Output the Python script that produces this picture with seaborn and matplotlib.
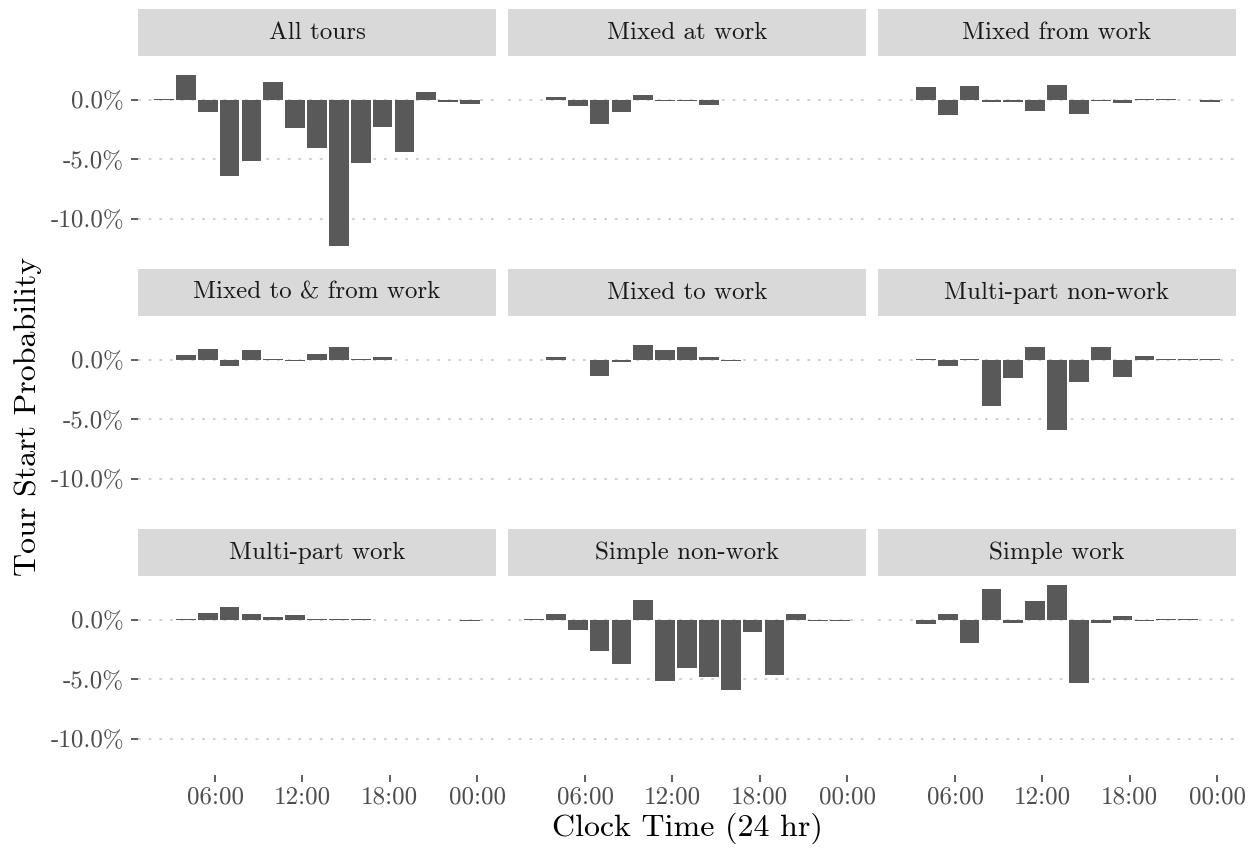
import numpy as np
import pandas as pd
import matplotlib
matplotlib.use("Agg")
import matplotlib.pyplot as plt
from matplotlib.patches import Rectangle
from matplotlib.ticker import FuncFormatter, FixedLocator
import seaborn as sns

# Start of each 1.5-hour tour-start window (bar centres, clock hours)
start_hours = [2.5, 4.0, 5.5, 7.0, 8.5, 10.0, 11.5, 13.0, 14.5, 16.0, 17.5, 19.0, 20.5, 22.0, 23.5]

tour_types = [
    "All tours", "Mixed at work", "Mixed from work",
    "Mixed to & from work", "Mixed to work", "Multi-part non-work",
    "Multi-part work", "Simple non-work", "Simple work",
]

# Change in tour start probability (percentage points); None = no tours in window
all_tours = [0.04, 2.08, -1.03, -6.45, -5.18, 1.48, -2.39, -4.08, -12.3, -5.35, -2.30, -4.42, 0.64, -0.18, -0.35]
mixed_at_work = [None, 0.21, -0.55, -2.08, -1.06, 0.38, -0.13, -0.13, -0.47, None, None, None, None, None, None]
mixed_from_work = [None, 1.06, -1.31, 1.14, -0.21, -0.21, -0.97, 1.23, -1.23, -0.13, -0.30, 0.04, 0.04, None, -0.21]
mixed_to_from_work = [None, 0.37, 0.88, -0.56, 0.79, 0.04, -0.14, 0.45, 1.05, 0.04, 0.20, None, None, None, None]
mixed_to_work = [None, 0.18, -0.05, -1.41, -0.23, 1.22, 0.79, 1.05, 0.20, -0.14, -0.05, -0.05, None, None, None]
multipart_nonwork = [None, 0.04, -0.56, 0.04, -3.87, -1.58, 1.05, -5.90, -1.92, 1.05, -1.50, 0.28, 0.04, 0.04, 0.04]
multipart_work = [None, 0.04, 0.56, 1.05, 0.48, 0.20, 0.40, 0.05, 0.05, 0.05, -0.05, None, None, None, -0.12]
simple_nonwork = [0.04, 0.45, -0.85, -2.65, -3.70, 1.65, -5.20, -4.05, -4.80, -5.90, -1.05, -4.65, 0.50, -0.15, -0.08]
simple_work = [None, -0.40, 0.50, -2.00, 2.60, -0.30, 1.60, 2.90, -5.30, -0.30, 0.30, -0.10, 0.04, 0.04, None]

series = [all_tours, mixed_at_work, mixed_from_work, mixed_to_from_work, mixed_to_work,
          multipart_nonwork, multipart_work, simple_nonwork, simple_work]

x_ticks = [6, 12, 18, 24]
x_tick_labels = ["06:00", "12:00", "18:00", "00:00"]
y_ticks = [-10, -5, 0]

rows = []
for name, vals in zip(tour_types, series):
    for h, v in zip(start_hours, vals):
        if v is not None:
            rows.append({"tour_type": name, "start_hour": h, "delta": v})
df = pd.DataFrame(rows)

sns.set_theme(style="white")
plt.rcParams["font.family"] = ["cmr10", "DejaVu Serif"]
plt.rcParams["axes.unicode_minus"] = False
plt.rcParams["axes.formatter.use_mathtext"] = True

W, H, DPI = 1259, 852, 100
g = sns.FacetGrid(df, col="tour_type", col_order=tour_types, col_wrap=3,
                  sharex=True, sharey=True, height=2, aspect=1.6, despine=False)


def draw_bars(data, **kws):
    ax = plt.gca()
    ax.bar(data["start_hour"], data["delta"], width=1.35, color="#595959",
           linewidth=0, zorder=3)


g.map_dataframe(draw_bars)
fig = g.figure
fig.set_size_inches(W / DPI, H / DPI)
fig.set_dpi(DPI)

left, right = 138, 1236
top, bottom = 56, 775
panel_w = (right - left - 2 * 12) / 3
panel_h = 199
fig.subplots_adjust(left=left / W, right=right / W, top=1 - top / H, bottom=1 - bottom / H,
                    wspace=12 / panel_w, hspace=(((bottom - top) - 3 * panel_h) / 2) / panel_h)

strip_h = 47 / panel_h
for i, (ax, name) in enumerate(zip(g.axes.flat, tour_types)):
    r, c = divmod(i, 3)
    ax.set_title("")
    ax.set_xlabel("")
    ax.set_ylabel("")
    for s in ax.spines.values():
        s.set_visible(False)
    ax.set_facecolor("white")
    ax.xaxis.set_major_locator(FixedLocator(x_ticks))
    ax.set_xticklabels(x_tick_labels)
    ax.yaxis.set_major_locator(FixedLocator(y_ticks))
    ax.yaxis.set_major_formatter(FuncFormatter(lambda v, p: f"{v:.1f}%"))
    ax.grid(False)
    ax.yaxis.grid(True, color="#C4C4C4", linewidth=1.1, linestyle=(0, (1.8, 5.2)), zorder=0)
    ax.tick_params(axis="both", labelsize=18, colors="#4D4D4D", length=5, width=1.1,
                   color="#333333", pad=5, direction="out")
    ax.tick_params(axis="y", left=(c == 0), labelleft=(c == 0))
    ax.tick_params(axis="x", bottom=(r == 2), labelbottom=(r == 2), pad=3)
    ax.add_patch(Rectangle((0, 1), 1, strip_h, transform=ax.transAxes,
                           facecolor="#D9D9D9", edgecolor="none", clip_on=False, zorder=1))
    ax.text(0.5, 1 + strip_h / 2, name, transform=ax.transAxes, ha="center", va="center",
            fontsize=18, color="#1A1A1A")

fig.text((left + right) / 2 / W, 1 - 828 / H, "Clock Time (24 hr)", ha="center",
         va="center", fontsize=23, color="black")
fig.text(28 / W, 1 - 416 / H, "Tour Start Probability", ha="center", va="center",
         rotation=90, fontsize=23, color="black")

fig.savefig("out.png", dpi=DPI, facecolor="white")
